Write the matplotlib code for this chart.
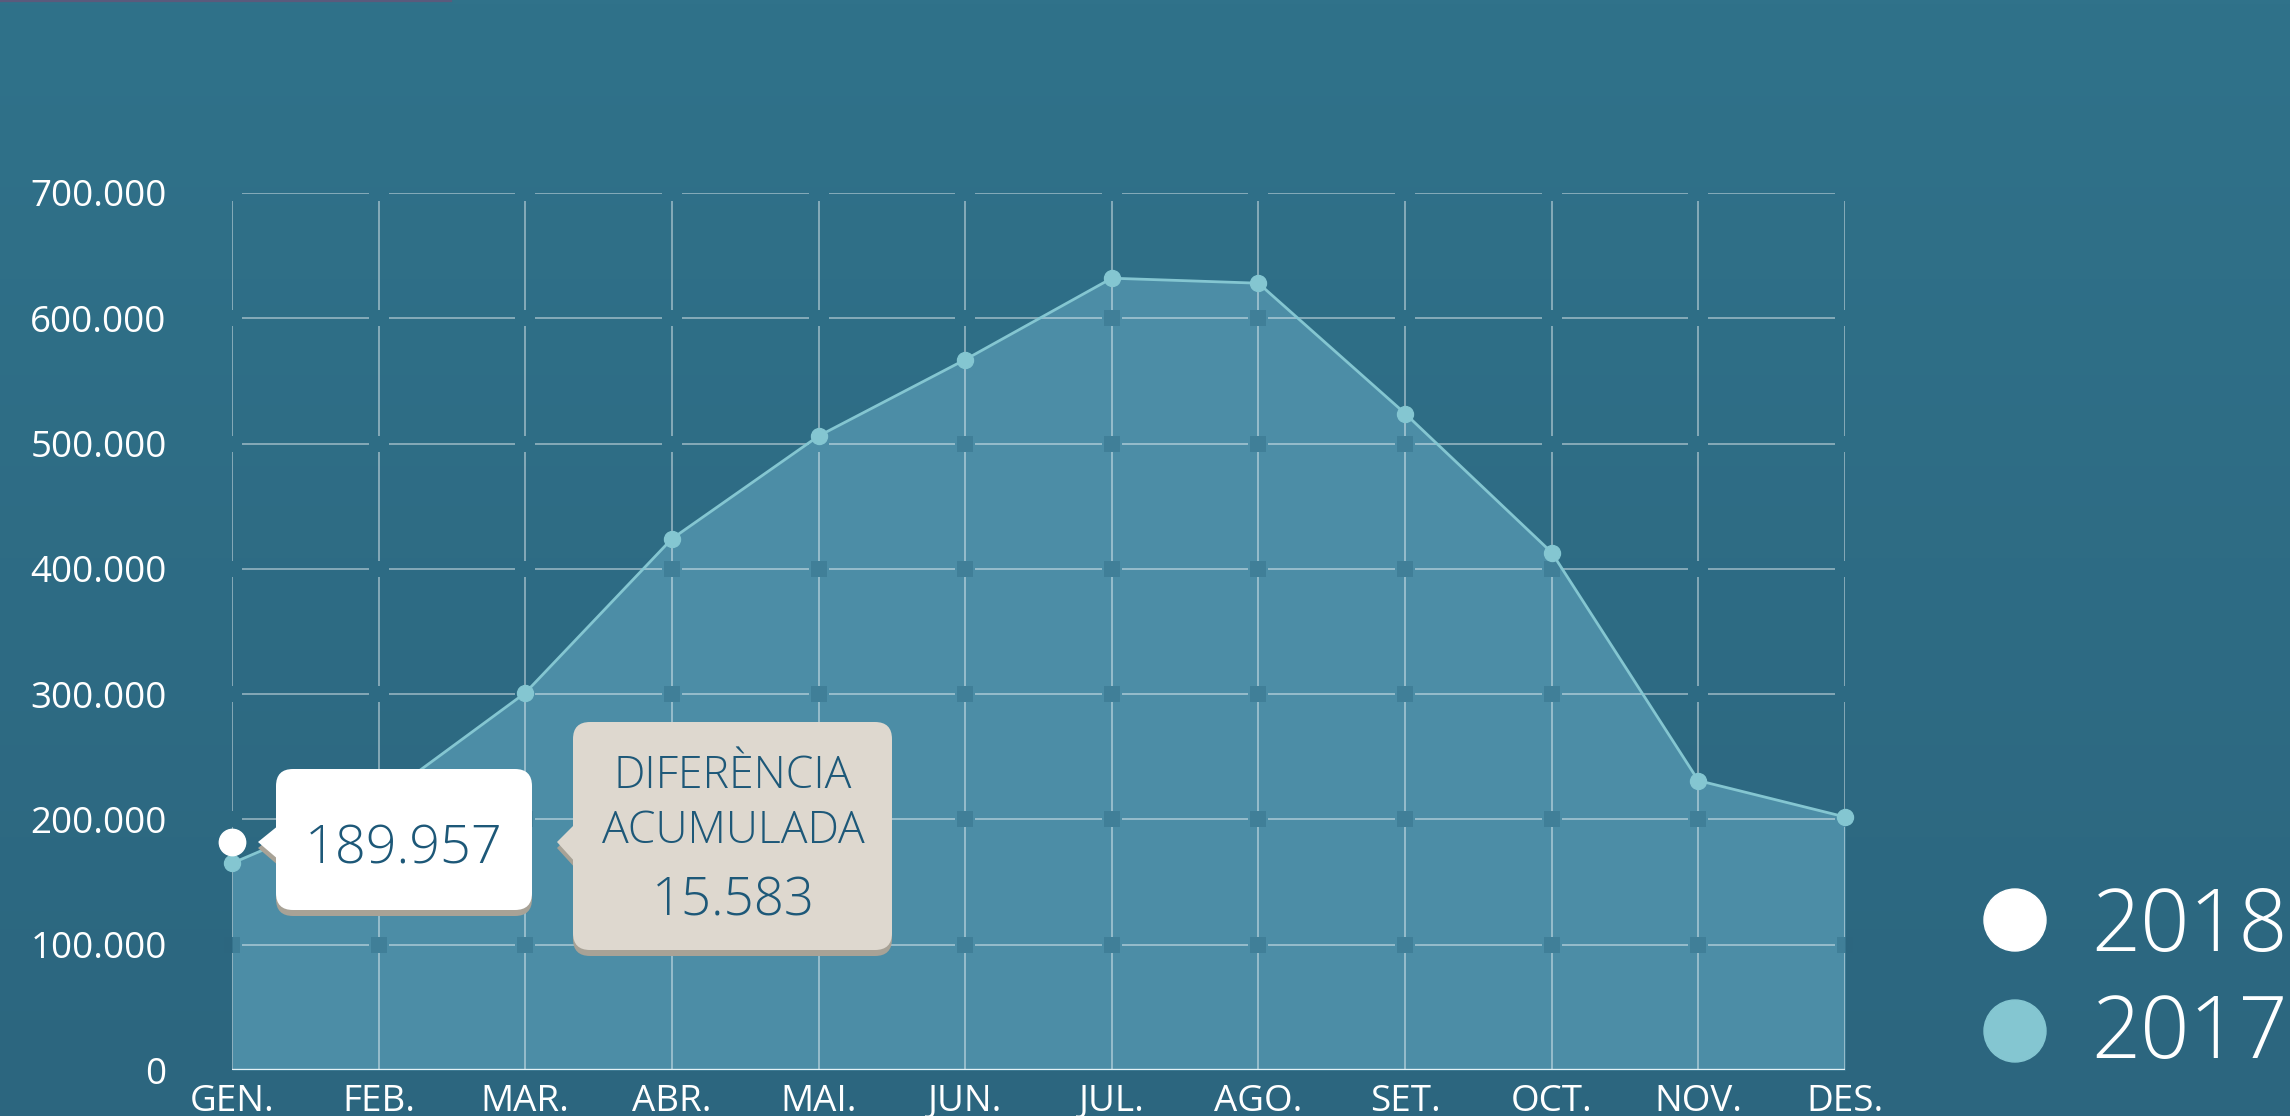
import numpy as np
import matplotlib
matplotlib.use("Agg")
import matplotlib.pyplot as plt
from matplotlib.patches import FancyBboxPatch, Polygon, Circle

# monthly visitors
months = ["GEN.", "FEB.", "MAR.", "ABR.", "MAI.", "JUN.", "JUL.", "AGO.", "SET.", "OCT.", "NOV.", "DES."]
visitors_2017 = [165000, 215000, 301000, 424000, 506000, 567000, 632000, 628000, 524000, 413000, 231000, 202000]
visitors_2018 = [182000]
series_names = ["2018", "2017"]
y_ticks = [0, 100000, 200000, 300000, 400000, 500000, 600000, 700000]
tooltip_value = 189957
diff_label = ["DIFERÈNCIA", "ACUMULADA"]
diff_value = 15583

plt.rcParams['font.family'] = ['Open Sans', 'DejaVu Sans']

bg_top = np.array([48, 114, 138]) / 255
bg_bot = np.array([44, 102, 127]) / 255
fill_c = "#4c8da6"
line_c = "#84c6d1"
grid_c = (1, 1, 1, 0.42)
text_dark = "#1d5878"


def fmt(v):
    return f"{v:,}".replace(",", ".")


W, H = 2290, 1116
fig = plt.figure(figsize=(W / 100, H / 100), dpi=100)

# background gradient
bg = fig.add_axes([0, 0, 1, 1], zorder=0)
t = np.linspace(0, 1, 256)[:, None, None]
bg.imshow(bg_top + (bg_bot - bg_top) * t, aspect="auto", extent=[0, 1, 0, 1])
bg.axis("off")

# main chart, 0 at y=1070px, 700.000 at y=193px, GEN at x=232px, DES at x=1845px
ax = fig.add_axes([232 / W, (H - 1070) / H, (1845 - 232) / W, (1070 - 193) / H], zorder=1)
ax.patch.set_alpha(0)
for s in ax.spines.values():
    s.set_visible(False)

x = np.arange(len(months))
ax.set_xlim(0, len(months) - 1)
ax.set_ylim(y_ticks[0], y_ticks[-1])

ax.fill_between(x, visitors_2017, color=fill_c, lw=0, zorder=2)

# broken grid (gaps at every crossing)
gx = 10 / 146.6
gy = 8 / 125.3 * 100000
for yv in y_ticks[1:]:
    ax.hlines([yv] * (len(x) - 1), x[:-1] + gx, x[1:] - gx, color=grid_c, lw=1.4, zorder=3)
for xv in x:
    lows = [y_ticks[0]] + [v + gy for v in y_ticks[1:-1]]
    highs = [v - gy for v in y_ticks[1:]]
    ax.vlines([xv] * len(lows), lows, highs, color=grid_c, lw=1.4, zorder=3)

# darker spots at the crossings that sit inside the filled area
cross = [(xv, yv) for xv in x for yv in y_ticks[1:] if yv < visitors_2017[xv] - gy]
ax.scatter([c[0] for c in cross], [c[1] for c in cross], marker="s", s=130,
           color=tuple(bg_bot), alpha=0.35, lw=0, zorder=2.5, clip_on=False)

ax.axhline(0, color="#e4f1f5", lw=2.4, zorder=4)

ax.plot(x, visitors_2017, color=line_c, lw=2, marker="o", ms=11.5, zorder=5, clip_on=False)
ax.plot(x[:len(visitors_2018)], visitors_2018, "o", color="white", ms=19, zorder=6, clip_on=False)

ax.set_xticks(x, months)
ax.set_yticks(y_ticks, [fmt(v) for v in y_ticks])
ax.tick_params(axis="both", length=0, colors="white", labelsize=26.5)
ax.tick_params(axis="y", pad=47)
ax.tick_params(axis="x", pad=10)

# overlay in pixel coordinates for tooltips and legend
ov = fig.add_axes([0, 0, 1, 1], zorder=10)
ov.set_xlim(0, W)
ov.set_ylim(H, 0)
ov.axis("off")
ov.patch.set_alpha(0)

ov.plot([0, 451], [0.8, 0.8], color="#5b5a7c", lw=1.6)


def tooltip(x0, y0, x1, y1, tip, b0, b1, face, shadow="#a8a296", r=17, dy=6):
    for off, c, z in [(dy, shadow, 1), (0, face, 2)]:
        ov.add_patch(FancyBboxPatch((x0, y0 + off), x1 - x0, y1 - y0,
                                    boxstyle=f"round,pad=0,rounding_size={r}",
                                    fc=c, ec="none", zorder=z))
        ov.add_patch(Polygon([(tip[0], tip[1] + off), (x0 + 3, b0 + off), (x0 + 3, b1 + off)],
                             closed=True, fc=c, ec="none", zorder=z))


tooltip(276, 769, 532, 910, (258, 842), 825, 860, "white")
ov.text(404, 863, fmt(tooltip_value), ha="center", va="baseline", fontsize=39,
        fontweight="light", color=text_dark, zorder=3)

tooltip(573, 722, 892, 950, (557, 842), 823, 863, "#ded8cf")
ov.text(733, 788, diff_label[0], ha="center", va="baseline", fontsize=32,
        fontweight="light", color=text_dark, zorder=3)
ov.text(733, 843, diff_label[1], ha="center", va="baseline", fontsize=32,
        fontweight="light", color=text_dark, zorder=3)
ov.text(733, 915, fmt(diff_value), ha="center", va="baseline", fontsize=38,
        fontweight="light", color=text_dark, zorder=3)

# legend
for (cy, base), name, c in zip([(920, 951), (1031, 1058)], series_names, ["white", line_c]):
    ov.add_patch(Circle((2015, cy), 31, color=c, zorder=3))
    ov.text(2091, base, name, ha="left", va="baseline", fontsize=62,
            fontweight="light", color="white", zorder=3)

fig.savefig("out.png", dpi=100)
